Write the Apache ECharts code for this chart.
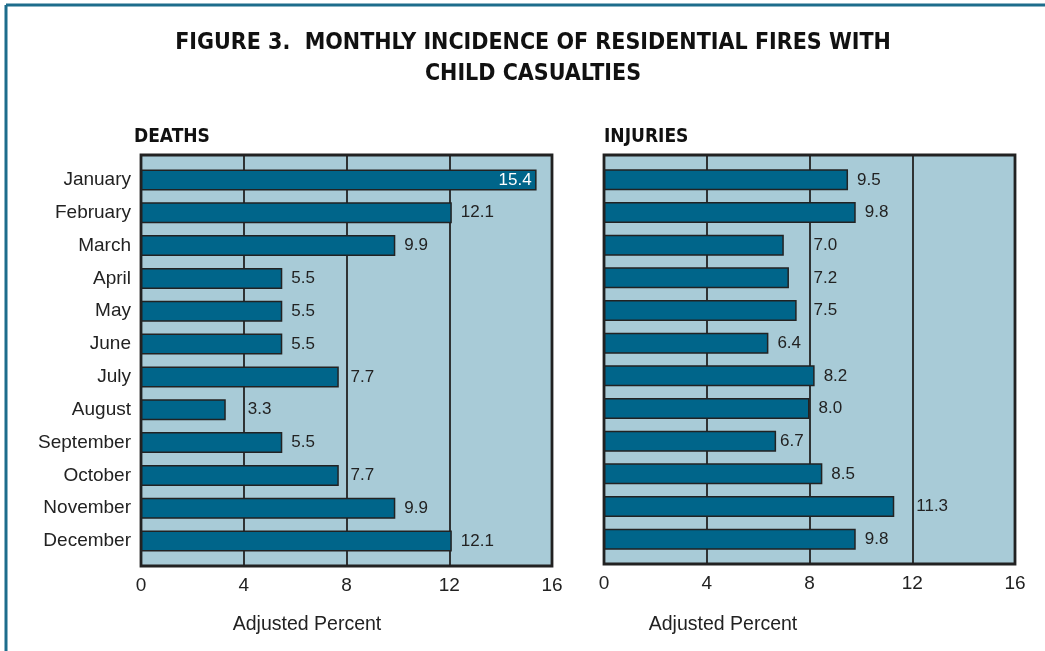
<!DOCTYPE html>
<html><head><meta charset="utf-8">
<script src="https://cdn.jsdelivr.net/npm/echarts@6/dist/echarts.min.js"></script>
<style>html,body{margin:0;padding:0;background:#fff}#c{width:1045px;height:651px}</style>
</head><body><div id="c"></div>
<script>
const months = ['January','February','March','April','May','June','July','August','September','October','November','December'];
const deaths = [15.4, 12.1, 9.9, 5.5, 5.5, 5.5, 7.7, 3.3, 5.5, 7.7, 9.9, 12.1];
const injuries = [9.5, 9.8, 7.0, 7.2, 7.5, 6.4, 8.2, 8.0, 6.7, 8.5, 11.3, 9.8];
const xTicks = [0, 4, 8, 12, 16];
const titleLines = ['FIGURE 3.  MONTHLY INCIDENCE OF RESIDENTIAL FIRES WITH', 'CHILD CASUALTIES'];
const panelTitles = ['DEATHS', 'INJURIES'];
const axisTitle = 'Adjusted Percent';

const BAR = '#00658a', BG = '#a8cbd7', INK = '#222';
const condensed = '"DejaVu Sans Condensed","Liberation Sans Narrow","DejaVu Sans",sans-serif';
const body = '"Liberation Sans","Open Sans",sans-serif';

const chart = echarts.init(document.getElementById('c'), null, {renderer: 'canvas'});

const panels = [
  {left: 141, width: 411, top: 155, bottom: 566, data: deaths, nameX: 307, titleX: 134},
  {left: 604, width: 411, top: 155, bottom: 564, data: injuries, nameX: 723, titleX: 604}
];

// label placement: keep value labels clear of the vertical gridlines
const GAP = 9, TIGHT = 4;
function textW(s) { return s.split('').reduce((a, c) => a + (c === '.' ? 4.7 : 9.45), 0); }
function labelDistance(v, ppu, text) {
  const end = v * ppu, w = textW(text);
  let gap = GAP;
  xTicks.slice(1, -1).forEach(t => {
    const g = t * ppu;
    if (end + gap - 2 < g && end + gap + w + 1 > g) {
      if (end + TIGHT + w + 2 < g) gap = TIGHT;       // fits just before the line
      else gap = g + 4 - end;                           // move past the line
    }
  });
  return gap;
}

const grids = [], xAxes = [], yAxes = [], series = [];
panels.forEach((p, i) => {
  const ppu = p.width / 16;
  grids.push({left: p.left, width: p.width, top: p.top, height: p.bottom - p.top,
    show: true, backgroundColor: BG, borderColor: INK, borderWidth: 2.8, containLabel: false});
  xAxes.push({type: 'value', gridIndex: 2*i, min: xTicks[0], max: xTicks[xTicks.length-1], interval: 4,
    axisLine: {show: false}, axisTick: {show: false},
    splitLine: {show: true, lineStyle: {color: INK, width: 1.8}},
    axisLabel: {show: true, margin: 10, fontFamily: body, fontSize: 19, color: INK,
      formatter: v => xTicks.includes(v) ? String(v) : ''}});
  yAxes.push({type: 'value', gridIndex: 2*i, show: false, min: 0, max: 1, splitLine: {show: false}});
  grids.push({left: p.left, width: p.width, top: p.top + 8.5, height: (p.bottom - p.top) - 17, containLabel: false});
  xAxes.push({type: 'value', gridIndex: 2*i+1, min: 0, max: 16, show: false, splitLine: {show: false}});
  yAxes.push({type: 'category', gridIndex: 2*i+1, data: months, inverse: true,
    axisLine: {show: false}, axisTick: {show: false},
    axisLabel: {show: i === 0, margin: 10, fontFamily: body, fontSize: 19, color: INK}});
  series.push({type: 'bar', xAxisIndex: 2*i+1, yAxisIndex: 2*i+1, barWidth: 21, z: 3,
    itemStyle: {color: BAR, borderColor: INK, borderWidth: 1.5},
    label: {show: true, position: 'right', fontFamily: body, fontSize: 17, color: INK,
      formatter: d => d.value.toFixed(1)},
    data: p.data.map(v => v > 14
      ? {value: v, label: {position: 'insideRight', color: '#fff', distance: 5}}
      : {value: v, label: {distance: labelDistance(v, ppu, v.toFixed(1))}})});
});

const graphic = [
  {type: 'line', shape: {x1: 6, y1: 5, x2: 1045, y2: 5}, style: {stroke: '#1d6d8c', lineWidth: 3}},
  {type: 'line', shape: {x1: 6, y1: 5, x2: 6, y2: 651}, style: {stroke: '#1d6d8c', lineWidth: 3}}
];
titleLines.forEach((t, k) => graphic.push({type: 'text', x: 533, y: 43 + k*31,
  style: {text: t, fill: '#111', font: 'bold 23px ' + condensed, textAlign: 'center', textVerticalAlign: 'middle'}}));
panels.forEach((p, i) => {
  graphic.push({type: 'text', x: p.titleX, y: 137,
    style: {text: panelTitles[i], fill: '#111', font: 'bold 19px ' + condensed, textAlign: 'left', textVerticalAlign: 'middle'}});
  graphic.push({type: 'text', x: p.nameX, y: 625,
    style: {text: axisTitle, fill: INK, font: '19.5px ' + body, textAlign: 'center', textVerticalAlign: 'middle'}});
});

chart.setOption({animation: false, backgroundColor: '#fff', grid: grids, xAxis: xAxes, yAxis: yAxes, series, graphic});
</script></body></html>
